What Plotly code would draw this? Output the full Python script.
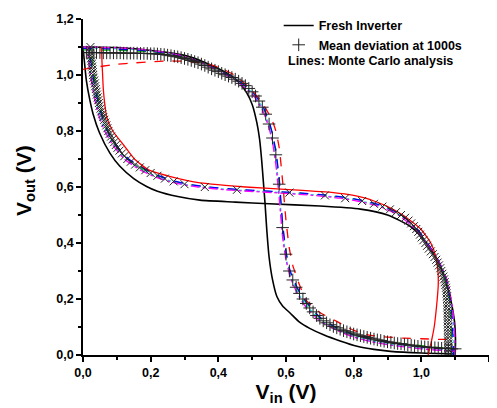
import plotly.graph_objects as go

# ---------------- data ----------------
# Fresh inverter VTC
FRESH_VIN = [0.0, 0.1, 0.227, 0.3, 0.36, 0.425, 0.46, 0.484, 0.50, 0.514, 0.522, 0.528, 0.533,
             0.538, 0.543, 0.55, 0.56, 0.573, 0.59, 0.612, 0.64, 0.67, 0.711, 0.76, 0.81, 0.86,
             0.909, 1.0, 1.1]
FRESH_VOUT = [1.10, 1.098, 1.084, 1.07, 1.045, 1.007, 0.975, 0.936, 0.895, 0.829, 0.77, 0.697, 0.62,
              0.543, 0.45, 0.35, 0.27, 0.209, 0.175, 0.15, 0.117, 0.095, 0.072, 0.05, 0.031, 0.02,
              0.013, 0.007, 0.004]
# Fresh inverter, second (mirrored) curve
FRESH_M_X = [1.10, 1.101, 1.098, 1.087, 1.07, 1.047, 1.01, 0.968, 0.90, 0.82, 0.70, 0.55, 0.45,
             0.346, 0.28, 0.22, 0.188, 0.15, 0.109, 0.08, 0.049, 0.03, 0.02, 0.01, 0.004, 0.0]
FRESH_M_Y = [0.0, 0.05, 0.12, 0.197, 0.27, 0.34, 0.41, 0.459, 0.50, 0.521, 0.532, 0.54, 0.546,
             0.553, 0.566, 0.585, 0.602, 0.63, 0.674, 0.72, 0.793, 0.86, 0.912, 0.98, 1.05, 1.10]

# Mean deviation at 1000s (Vin step 0.01 V, 0 .. 1.10 V)
MEAN_VIN = [round(i * 0.01, 2) for i in range(111)]
MEAN_VOUT = [
    1.080, 1.080, 1.080, 1.080, 1.080, 1.080, 1.079, 1.079, 1.079, 1.079,
    1.079, 1.079, 1.078, 1.078, 1.078, 1.078, 1.078, 1.077, 1.077, 1.077,
    1.076, 1.076, 1.075, 1.074, 1.073, 1.071, 1.069, 1.067, 1.065, 1.062,
    1.059, 1.056, 1.052, 1.048, 1.044, 1.039, 1.034, 1.028, 1.022, 1.017,
    1.012, 1.006, 1.001, 0.996, 0.991, 0.985, 0.978, 0.970, 0.962, 0.952,
    0.940, 0.925, 0.907, 0.885, 0.860, 0.825, 0.775, 0.715, 0.610, 0.455,
    0.360, 0.300, 0.268, 0.242, 0.220, 0.200, 0.184, 0.168, 0.154, 0.141,
    0.131, 0.122, 0.115, 0.108, 0.102, 0.097, 0.092, 0.087, 0.083, 0.079,
    0.075, 0.072, 0.069, 0.066, 0.063, 0.060, 0.057, 0.054, 0.052, 0.049,
    0.047, 0.045, 0.043, 0.041, 0.040, 0.038, 0.036, 0.035, 0.033, 0.031,
    0.030, 0.029, 0.028, 0.027, 0.026, 0.025, 0.024, 0.023, 0.023, 0.022,
    0.022,
]

# Monte Carlo runs (common Vin grid)
MC_VIN = [0.0, 0.05, 0.1, 0.15, 0.2, 0.25, 0.3, 0.35, 0.4, 0.45, 0.5, 0.53, 0.55, 0.56, 0.57,
          0.58, 0.59, 0.6, 0.61, 0.62, 0.64, 0.66, 0.7, 0.75, 0.8, 0.85, 0.9, 0.95, 1.0, 1.05, 1.1]
MC_RED = [1.02, 1.03, 1.038, 1.043, 1.047, 1.05, 1.049, 1.043, 1.028, 0.998, 0.945, 0.90, 0.86,
          0.835, 0.80, 0.74, 0.62, 0.48, 0.38, 0.32, 0.25, 0.195, 0.152, 0.12, 0.088, 0.07,
          0.064, 0.06, 0.058, 0.056, 0.055]
MC_BLUE = [1.095, 1.094, 1.092, 1.09, 1.085, 1.078, 1.065, 1.045, 1.018, 0.988, 0.942, 0.893,
           0.835, 0.79, 0.73, 0.63, 0.47, 0.37, 0.31, 0.275, 0.225, 0.19, 0.135, 0.097, 0.072,
           0.057, 0.045, 0.036, 0.029, 0.023, 0.018]
MC_MAGENTA = [1.10, 1.099, 1.097, 1.094, 1.088, 1.08, 1.066, 1.044, 1.015, 0.982, 0.932, 0.877,
              0.81, 0.76, 0.68, 0.56, 0.42, 0.34, 0.29, 0.255, 0.205, 0.17, 0.122, 0.088, 0.064,
              0.048, 0.037, 0.029, 0.022, 0.017, 0.013]
MC_GREEN = [1.09, 1.089, 1.088, 1.086, 1.082, 1.075, 1.062, 1.042, 1.016, 0.987, 0.94, 0.89,
            0.83, 0.785, 0.72, 0.61, 0.46, 0.365, 0.305, 0.27, 0.222, 0.186, 0.132, 0.097, 0.074,
            0.059, 0.048, 0.04, 0.033, 0.027, 0.022]
MC_CYAN = [1.097, 1.096, 1.094, 1.091, 1.086, 1.078, 1.064, 1.043, 1.016, 0.985, 0.937, 0.885,
           0.82, 0.77, 0.70, 0.585, 0.44, 0.35, 0.295, 0.262, 0.212, 0.178, 0.126, 0.091, 0.067,
           0.051, 0.04, 0.031, 0.024, 0.018, 0.015]

X_TICKS = [0.0, 0.2, 0.4, 0.6, 0.8, 1.0, 1.2]
Y_TICKS = [0.0, 0.2, 0.4, 0.6, 0.8, 1.0, 1.2]

# ---------------- figure ----------------
FONT = "Liberation Sans, Arial, sans-serif"
fig = go.Figure()

# fresh inverter
fig.add_trace(go.Scatter(x=FRESH_VIN, y=FRESH_VOUT, mode="lines", name="Fresh Inverter",
                         line=dict(color="black", width=1.6, shape="spline", smoothing=0.6)))
fig.add_trace(go.Scatter(x=FRESH_M_X, y=FRESH_M_Y, mode="lines", showlegend=False,
                         line=dict(color="black", width=1.6, shape="spline", smoothing=0.6)))

# Monte Carlo lines: (values, color, dash for VTC, dash for mirrored curve)
mc_runs = [
    (MC_GREEN, "#00c000", "dash", "dash"),
    (MC_CYAN, "#00e0e0", "dot", "dot"),
    (MC_BLUE, "#0000ff", "dash", "dash"),
    (MC_MAGENTA, "#ff00ff", "dashdot", "dashdot"),
    (MC_RED, "#ff0000", "dash", "solid"),
]
for vals, col, d1, d2 in mc_runs:
    fig.add_trace(go.Scatter(x=MC_VIN, y=vals, mode="lines", showlegend=False,
                             line=dict(color=col, width=1.3, dash=d1, shape="spline", smoothing=0.5)))
    fig.add_trace(go.Scatter(x=vals, y=MC_VIN, mode="lines", showlegend=False,
                             line=dict(color=col, width=1.3, dash=d2, shape="spline", smoothing=0.5)))

# mean deviation markers
fig.add_trace(go.Scatter(x=MEAN_VIN, y=MEAN_VOUT, mode="markers", name="Mean deviation at 1000s",
                         marker=dict(symbol="cross-thin", size=9, color="#222",
                                     line=dict(color="#222", width=1))))
fig.add_trace(go.Scatter(x=MEAN_VOUT, y=MEAN_VIN, mode="markers", showlegend=False,
                         marker=dict(symbol="x-thin", size=8, color="#222",
                                     line=dict(color="#222", width=1))))

axis_common = dict(
    range=[0, 1.2], showline=True, linecolor="black", linewidth=1.5, showgrid=False,
    zeroline=False, ticks="outside", ticklen=5, tickwidth=1.5, tickcolor="black",
    tickformat=".1f", tickfont=dict(family=FONT, size=12.5, color="black", weight="bold"),
    minor=dict(ticks="outside", ticklen=3, tickwidth=1.5, tickcolor="black", dtick=0.1,
               showgrid=False),
    automargin=False,
)
fig.update_xaxes(**axis_common, tickvals=X_TICKS,
                 title=dict(text="V<sub>in</sub> (V)", standoff=5,
                            font=dict(family=FONT, size=21, color="black", weight="bold")))
fig.update_yaxes(**axis_common, tickvals=Y_TICKS)

# y-axis title (placed as a rotated annotation to match the reference position)
fig.add_annotation(text="V<sub>out</sub> (V)", xref="paper", yref="paper",
                   x=-0.106, y=0.521, xanchor="right", yanchor="middle", textangle=-90,
                   showarrow=False,
                   font=dict(family=FONT, size=21, color="black", weight="bold"))

fig.add_annotation(text="Lines: Monte Carlo analysis", xref="paper", yref="paper",
                   x=0.4996, y=0.876, xanchor="left", yanchor="middle", showarrow=False,
                   font=dict(family=FONT, size=12.5, color="black", weight="bold"))

# the page adds an 8 px body margin, so the figure is 8 px smaller than the window
fig.update_layout(
    width=489, height=400, autosize=False,
    margin=dict(l=75, r=8, t=11, b=53, autoexpand=False),
    plot_bgcolor="white", paper_bgcolor="white",
    separators=",.",
    legend=dict(x=0.482, y=1.024, xref="paper", yref="paper", xanchor="left",
                yanchor="top", bgcolor="rgba(0,0,0,0)", tracegroupgap=0,
                font=dict(family=FONT, size=12.5, color="black", weight="bold")),
    showlegend=True,
)

fig.write_html("out.html")
